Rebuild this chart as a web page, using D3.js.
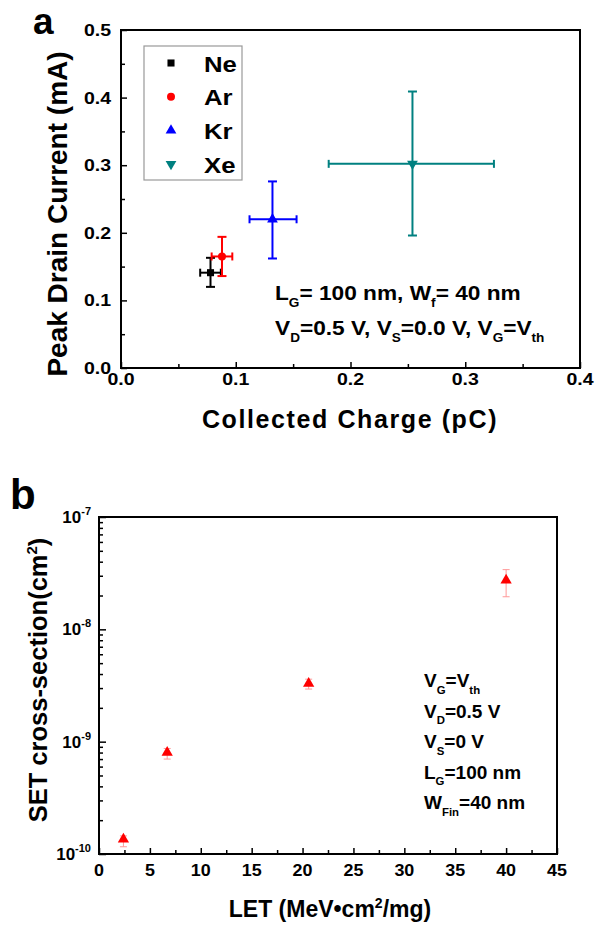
<!DOCTYPE html>
<html>
<head>
<meta charset="utf-8">
<script src="https://cdn.jsdelivr.net/npm/d3@7"></script>
<style>
  body { margin: 0; background: #fff; }
  svg { display: block; font-family: "Liberation Sans", Arial, sans-serif; }
</style>
</head>
<body>
<svg id="chart" width="598" height="926"></svg>
<script>
'use strict';

// panel a data
const ions = ['Ne', 'Ar', 'Kr', 'Xe'];
const ionColors = ['#000000', '#ff0000', '#0000ff', '#008080'];
const ionSymbols = ['square', 'circle', 'triangle', 'triangleDown'];
const charge = [0.078, 0.088, 0.132, 0.254];
const chargeLo = [0.069, 0.079, 0.112, 0.181];
const chargeHi = [0.087, 0.097, 0.153, 0.325];
const current = [0.141, 0.165, 0.220, 0.302];
const currentLo = [0.120, 0.136, 0.162, 0.196];
const currentHi = [0.163, 0.194, 0.276, 0.409];
const xTicksA = [0, 0.1, 0.2, 0.3, 0.4];
const yTicksA = [0, 0.1, 0.2, 0.3, 0.4, 0.5];

// panel b data
const letValues = [2.4, 6.7, 20.6, 40.0];
const sigma = [1.35e-10, 8.0e-10, 3.3e-9, 2.73e-8];
const sigmaLo = [1.16e-10, 7.0e-10, 2.94e-9, 1.95e-8];
const sigmaHi = [1.45e-10, 8.7e-10, 3.6e-9, 3.4e-8];
const xTicksB = [0, 5, 10, 15, 20, 25, 30, 35, 40, 45];
const yExpB = [-10, -9, -8, -7];

const svg = d3.select('#chart');

function symbolPath(type, size) {
    let s = d3.symbolSquare;
    if (type === 'circle') s = d3.symbolCircle;
    if (type === 'triangle' || type === 'triangleDown') s = d3.symbolTriangle;
    return d3.symbol().type(s).size(size)();
}

// bold text, slightly stretched sideways like the original figure
function label(g, x, y, str, size, anchor, sx) {
    return g.append('text')
        .attr('transform', `translate(${x},${y}) scale(${sx || 1},1)`)
        .attr('font-size', size)
        .attr('font-weight', 'bold')
        .attr('text-anchor', anchor || 'start')
        .text(str);
}

function richText(g, x, y, parts, size, sx) {
    // parts: [text, 'sub'|null]
    let t = g.append('text')
        .attr('transform', `translate(${x},${y}) scale(${sx || 1},1)`)
        .attr('font-size', size)
        .attr('font-weight', 'bold');
    let shift = 0;
    parts.forEach(p => {
        let span = t.append('tspan').text(p[0]);
        let target = p[1] === 'sub' ? size * 0.35 : 0;
        if (p[1]) span.attr('font-size', size * 0.6);
        span.attr('dy', target - shift);
        shift = target;
    });
    return t;
}

// ---------- panel a ----------
const a = { left: 121, right: 580, top: 30, bottom: 368 };
const xA = d3.scaleLinear().domain([0, 0.4]).range([a.left, a.right]);
const yA = d3.scaleLinear().domain([0, 0.5]).range([a.bottom, a.top]);
const fmtA = d3.format('.1f');

const gA = svg.append('g');

gA.append('g')
    .attr('transform', `translate(0,${a.bottom})`)
    .call(d3.axisBottom(xA).tickValues(xTicksA).tickFormat('')
        .tickSizeInner(-6).tickSizeOuter(0))
    .call(g => g.select('.domain').remove());
gA.append('g')
    .attr('transform', `translate(0,${a.bottom})`)
    .call(d3.axisBottom(xA).tickValues([0.05, 0.15, 0.25, 0.35]).tickFormat('')
        .tickSizeInner(-4).tickSizeOuter(0))
    .call(g => g.select('.domain').remove());
gA.append('g')
    .attr('transform', `translate(${a.left},0)`)
    .call(d3.axisLeft(yA).tickValues(yTicksA).tickFormat('')
        .tickSizeInner(-6).tickSizeOuter(0))
    .call(g => g.select('.domain').remove());
gA.append('g')
    .attr('transform', `translate(${a.left},0)`)
    .call(d3.axisLeft(yA).tickValues([0.05, 0.15, 0.25, 0.35, 0.45]).tickFormat('')
        .tickSizeInner(-4).tickSizeOuter(0))
    .call(g => g.select('.domain').remove());
gA.selectAll('.tick line').attr('stroke-width', 1.5);

xTicksA.forEach(v => label(gA, xA(v), 385, fmtA(v), 16, 'middle', 1.22));
yTicksA.forEach(v => label(gA, a.left - 10, yA(v) + 6, fmtA(v), 16, 'end', 1.22));

gA.append('rect')
    .attr('x', a.left).attr('y', a.top)
    .attr('width', a.right - a.left).attr('height', a.bottom - a.top)
    .attr('fill', 'none').attr('stroke', '#000').attr('stroke-width', 2);

// error bars and markers
ions.forEach((ion, i) => {
    const c = ionColors[i];
    const eg = gA.append('g').attr('stroke', c).attr('stroke-width', 2);
    const cx = xA(charge[i]), cy = yA(current[i]);
    eg.append('line').attr('x1', cx).attr('x2', cx).attr('y1', yA(currentLo[i])).attr('y2', yA(currentHi[i]));
    eg.append('line').attr('x1', xA(chargeLo[i])).attr('x2', xA(chargeHi[i])).attr('y1', cy).attr('y2', cy);
    [currentLo[i], currentHi[i]].forEach(v => {
        eg.append('line').attr('x1', cx - 4.5).attr('x2', cx + 4.5).attr('y1', yA(v)).attr('y2', yA(v));
    });
    [chargeLo[i], chargeHi[i]].forEach(v => {
        eg.append('line').attr('x1', xA(v)).attr('x2', xA(v)).attr('y1', cy - 4).attr('y2', cy + 4);
    });
    gA.append('path')
        .attr('d', symbolPath(ionSymbols[i], 50))
        .attr('transform', `translate(${cx},${cy})` + (ionSymbols[i] === 'triangleDown' ? ' rotate(180)' : ''))
        .attr('fill', c);
});

// legend
const leg = gA.append('g');
leg.append('rect').attr('x', 144).attr('y', 46).attr('width', 98).attr('height', 134)
    .attr('fill', '#fff').attr('stroke', '#999').attr('stroke-width', 1.2);
ions.forEach((ion, i) => {
    const ly = 63 + i * 33.7;
    leg.append('path')
        .attr('d', symbolPath(ionSymbols[i], 50))
        .attr('transform', `translate(171,${ly})` + (ionSymbols[i] === 'triangleDown' ? ' rotate(180)' : ''))
        .attr('fill', ionColors[i]);
    label(leg, 204, ly + 8.5, ion, 23, 'start', 1.12);
});

// annotations
richText(gA, 275, 300, [['L'], ['G', 'sub'], ['= 100 nm, W'], ['f', 'sub'], ['= 40 nm']], 21, 1.08);
richText(gA, 275, 335, [['V'], ['D', 'sub'], ['=0.5 V, V'], ['S', 'sub'], ['=0.0 V, V'], ['G', 'sub'], ['=V'], ['th', 'sub']], 21, 1.08);

// titles
gA.append('text').attr('x', 350).attr('y', 428).attr('text-anchor', 'middle')
    .attr('font-size', 25).attr('font-weight', 'bold').attr('letter-spacing', 1.6)
    .text('Collected Charge (pC)');
gA.append('text').attr('transform', 'translate(67,214) rotate(-90)').attr('text-anchor', 'middle')
    .attr('font-size', 28).attr('font-weight', 'bold')
    .text('Peak Drain Current (mA)');
gA.append('text').attr('x', 33).attr('y', 34).attr('font-size', 37).attr('font-weight', 'bold').text('a');

// ---------- panel b ----------
const b = { left: 99, right: 557, top: 517, bottom: 854 };
const xB = d3.scaleLinear().domain([0, 45]).range([b.left, b.right]);
const yB = d3.scaleLog().domain([1e-10, 1e-7]).range([b.bottom, b.top]);

const gB = svg.append('g');

gB.append('g')
    .attr('transform', `translate(0,${b.bottom})`)
    .call(d3.axisBottom(xB).tickValues(xTicksB).tickFormat('')
        .tickSizeInner(-6).tickSizeOuter(0))
    .call(g => g.select('.domain').remove());
gB.append('g')
    .attr('transform', `translate(0,${b.bottom})`)
    .call(d3.axisBottom(xB).tickValues(xTicksB.slice(0, -1).map(v => v + 2.5)).tickFormat('')
        .tickSizeInner(-4).tickSizeOuter(0))
    .call(g => g.select('.domain').remove());

const majorY = yExpB.map(e => Math.pow(10, e));
const minorY = [];
yExpB.slice(0, -1).forEach(e => {
    for (let k = 2; k <= 9; k++) minorY.push(k * Math.pow(10, e));
});
gB.append('g')
    .attr('transform', `translate(${b.left},0)`)
    .call(d3.axisLeft(yB).tickValues(majorY).tickFormat('')
        .tickSizeInner(-7).tickSizeOuter(0))
    .call(g => g.select('.domain').remove());
gB.append('g')
    .attr('transform', `translate(${b.left},0)`)
    .call(d3.axisLeft(yB).tickValues(minorY).tickFormat('')
        .tickSizeInner(-4).tickSizeOuter(0))
    .call(g => g.select('.domain').remove());
gB.selectAll('.tick line').attr('stroke-width', 1.5);

xTicksB.forEach(v => label(gB, xB(v), 876, String(v), 16, 'middle', 1.12));
yExpB.forEach(e => {
    const t = gB.append('text').attr('x', b.left - 8).attr('y', yB(Math.pow(10, e)) + 6)
        .attr('text-anchor', 'end').attr('font-weight', 'bold').attr('font-size', 17);
    t.append('tspan').text('10');
    t.append('tspan').attr('dy', -8).attr('font-size', 11).text(e);
});

gB.append('rect')
    .attr('x', b.left).attr('y', b.top)
    .attr('width', b.right - b.left).attr('height', b.bottom - b.top)
    .attr('fill', 'none').attr('stroke', '#000').attr('stroke-width', 2);

letValues.forEach((v, i) => {
    const cx = xB(v);
    const eg = gB.append('g').attr('stroke', '#ff9999').attr('stroke-width', 1);
    eg.append('line').attr('x1', cx).attr('x2', cx).attr('y1', yB(sigmaLo[i])).attr('y2', yB(sigmaHi[i]));
    [sigmaLo[i], sigmaHi[i]].forEach(s => {
        eg.append('line').attr('x1', cx - 3.5).attr('x2', cx + 3.5).attr('y1', yB(s)).attr('y2', yB(s));
    });
    gB.append('path')
        .attr('d', symbolPath('triangle', 55))
        .attr('transform', `translate(${cx},${yB(sigma[i])})`)
        .attr('fill', '#ff0000');
});

const notes = [
    [['V'], ['G', 'sub'], ['=V'], ['th', 'sub']],
    [['V'], ['D', 'sub'], ['=0.5 V']],
    [['V'], ['S', 'sub'], ['=0 V']],
    [['L'], ['G', 'sub'], ['=100 nm']],
    [['W'], ['Fin', 'sub'], ['=40 nm']]
];
notes.forEach((n, i) => richText(gB, 424, 687 + i * 30.5, n, 19));

gB.append('text').attr('x', 330).attr('y', 917).attr('text-anchor', 'middle')
    .attr('font-size', 23).attr('font-weight', 'bold')
    .call(t => {
        t.append('tspan').text('LET (MeV\u2022cm');
        t.append('tspan').attr('dy', -9).attr('font-size', 14).text('2');
        t.append('tspan').attr('dy', 9).text('/mg)');
    });
gB.append('text').attr('transform', 'translate(47,680) rotate(-90)').attr('text-anchor', 'middle')
    .attr('font-size', 25.5).attr('font-weight', 'bold')
    .call(t => {
        t.append('tspan').text('SET cross-section(cm');
        t.append('tspan').attr('dy', -10).attr('font-size', 15).text('2');
        t.append('tspan').attr('dy', 10).text(')');
    });
gB.append('text').attr('x', 10).attr('y', 509).attr('font-size', 42).attr('font-weight', 'bold').text('b');
</script>
</body>
</html>
